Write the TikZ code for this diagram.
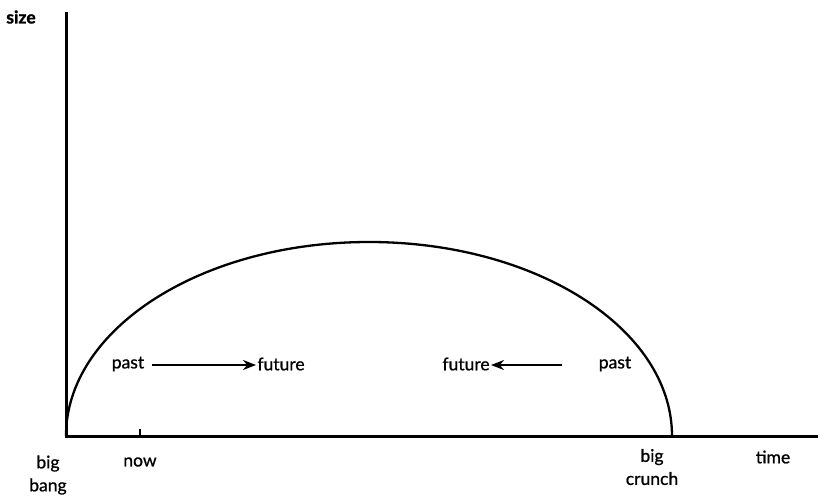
\documentclass[tikz,border=0pt]{standalone}
\usepackage{fontspec}
\setmainfont{Lato}
\newfontfamily\lblfont[FakeBold=0.9]{Lato}
\newfontfamily\sizefont[FakeBold=1.4]{Lato Bold}
\usetikzlibrary{arrows.meta}
\begin{document}
\begin{tikzpicture}[x=1pt,y=-1pt,
  axis/.style={line width=3pt},
  curve/.style={line width=2.3pt},
  lbl/.style={inner sep=0pt,font=\lblfont\fontsize{17.5}{23}\selectfont,align=center},
  arr/.style={line width=2.4pt,-{Stealth[length=13pt,width=10pt]}}]
\useasboundingbox (0,0) rectangle (818,496);
\coordinate (top) at (66,12);
\coordinate (o) at (66,436);
\coordinate (xend) at (818,436);
\draw[axis] (top) -- (o) -- (xend);
\coordinate (t1) at (140,429);
\coordinate (t2) at (140,436);
\draw[line width=1.6pt] (t1) -- (t2);
\draw[curve] (66,436) arc[start angle=180,end angle=360,x radius=303,y radius=194];
\node[lbl,font=\sizefont\fontsize{17.5}{23}\selectfont] (size) at (21,17) {size};
\node[lbl] (p1) at (128,364) {past};
\node[lbl] (f1) at (281,364) {future};
\node[lbl] (f2) at (466,364) {future};
\node[lbl] (p2) at (615,364) {past};
\coordinate (a1) at (152,365);
\coordinate (b1) at (256,365);
\coordinate (a2) at (562,365);
\coordinate (b2) at (491,365);
\draw[arr] (a1) -- (b1);
\draw[arr] (a2) -- (b2);
\node[lbl] (bb) at (48,475) {big\\bang};
\node[lbl] (now) at (140,462) {now};
\node[lbl] (bc) at (652,467) {big\\crunch};
\node[lbl] (time) at (773,457) {time};
\end{tikzpicture}
\end{document}
